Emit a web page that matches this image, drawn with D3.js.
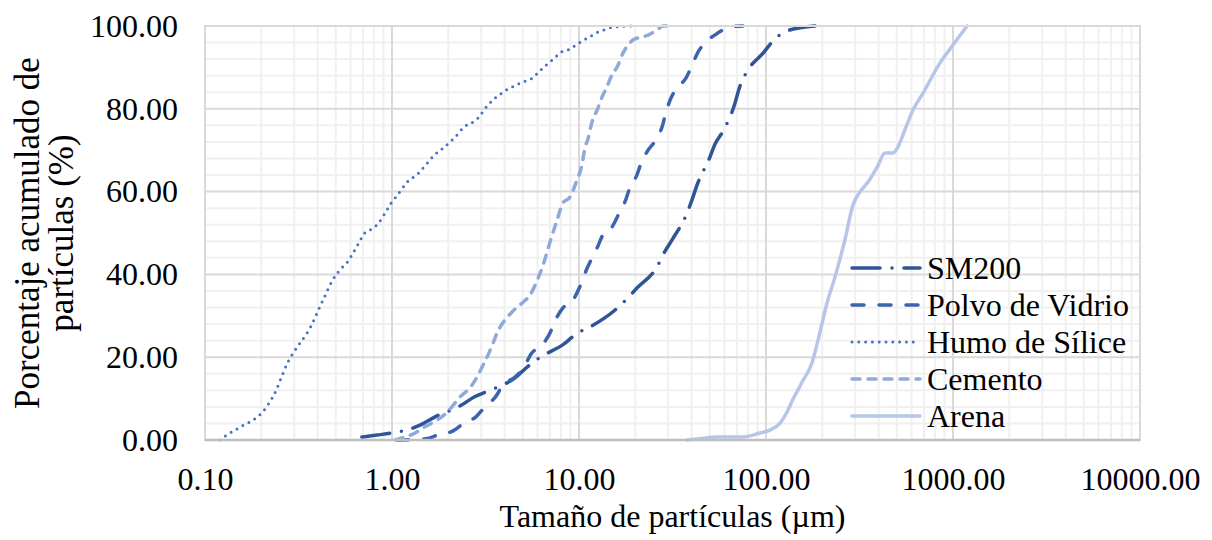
<!DOCTYPE html>
<html>
<head>
<meta charset="utf-8">
<script src="https://cdn.jsdelivr.net/npm/d3@7"></script>
<style>
  body { margin: 0; background: #fff; }
</style>
</head>
<body>
<svg id="chart" width="1212" height="540"></svg>
<script>
// ---- data ----
const seriesNames = ["SM200", "Polvo de Vidrio", "Humo de Sílice", "Cemento", "Arena"];

const sm200X = [0.69, 0.83, 1.0, 1.2, 1.41, 1.7, 2.37, 2.75, 3.26, 4.6, 5.21, 6.11, 8.32, 9.64, 11.45, 15.6, 17.8, 20.4, 26.1, 28.5, 31.4, 37.8, 40.2, 42.8, 50.2, 53.4, 58.9, 68.3, 71.7, 77.3, 97.5, 109, 129, 183];
const sm200Y = [0.7, 1.2, 1.7, 2.4, 3.6, 5.6, 8.5, 10.4, 11.8, 15.2, 17.4, 19.8, 23.2, 25.6, 27.3, 31.4, 33.8, 36.7, 41.8, 45.2, 48.3, 54.8, 58, 61.6, 68.4, 71.5, 74.6, 81.4, 84.8, 88.2, 93.7, 96.4, 98.8, 100];

const polvoX = [1.06, 1.28, 1.52, 1.76, 2.12, 2.43, 2.81, 3.14, 3.6, 3.92, 4.55, 5.08, 5.54, 6.34, 6.91, 7.63, 8.2, 9.29, 10.1, 11.0, 11.6, 12.5, 13.4, 15.0, 16.4, 17.6, 18.7, 20.4, 21.5, 23.1, 26.1, 27.8, 29.2, 30.7, 33.4, 37.3, 40.7, 43.3, 47.7, 55.3, 64.1, 75.3];
const polvoY = [0, 0.1, 0.3, 1.2, 2.2, 4.1, 5.6, 8, 10.6, 13.3, 15.2, 17.6, 20.8, 22.9, 25.4, 29.7, 31.9, 33.8, 37, 41.3, 43.5, 46.4, 49.5, 51.4, 54.8, 57.5, 60.9, 64, 66.9, 69.6, 72.9, 75.6, 79.2, 82.1, 85, 87.4, 91.1, 93.7, 96.1, 98.3, 99.8, 100];

const humoX = [0.12, 0.133, 0.158, 0.19, 0.204, 0.217, 0.24, 0.258, 0.281, 0.296, 0.322, 0.351, 0.369, 0.402, 0.438, 0.478, 0.54, 0.574, 0.611, 0.674, 0.708, 0.782, 0.841, 0.94, 0.988, 1.05, 1.12, 1.19, 1.39, 1.5, 1.7, 1.85, 2.15, 2.46, 2.71, 2.92, 3.1, 3.3, 3.87, 4.17, 4.6, 5.02, 5.54, 6.04, 6.42, 6.99, 7.53, 8.11, 8.95, 9.75, 10.6, 11.6, 12.6, 13.9, 15.2, 17.2, 19.0];
const humoY = [0, 1.4, 3.4, 5.5, 6.8, 8.5, 12, 15.5, 19.3, 21, 23.4, 25.8, 27.5, 31.2, 34.8, 38.4, 41.6, 42.8, 44.7, 48.1, 49.8, 51, 52.2, 55.6, 57.2, 58.7, 60.4, 62, 64.5, 66.2, 69, 70.3, 72.9, 75.8, 76.8, 78, 79.7, 81.2, 83.8, 84.8, 85.7, 86.5, 87.2, 88.7, 89.9, 91.3, 92.6, 93.8, 94.4, 95.6, 96.6, 97.6, 98.5, 99.2, 99.7, 99.9, 100];

const cementoX = [1.04, 1.17, 1.33, 1.46, 1.74, 1.95, 2.09, 2.31, 2.61, 2.85, 3.07, 3.26, 3.47, 3.64, 4.02, 4.38, 5.02, 5.47, 6.04, 6.34, 6.75, 7.0, 7.63, 8.2, 8.95, 9.75, 10.3, 10.8, 11.2, 11.7, 12.5, 13.3, 14.1, 15.0, 16.0, 17.2, 18.3, 19.4, 23.4, 26.1, 28.1, 31.8];
const cementoY = [0, 0.7, 1.7, 2.9, 4.8, 6.5, 8, 10.4, 12.6, 15.2, 18.1, 20.5, 23.4, 25.8, 29, 30.9, 33.3, 35, 39.1, 41.5, 45.4, 47.8, 53.1, 57.2, 58.7, 62.8, 65.9, 70.8, 72.9, 76.6, 79.7, 82.9, 85.3, 88.2, 90.1, 93.5, 95.4, 96.6, 97.8, 99, 100, 100];

const arenaX = [37.8, 44.4, 54.7, 74.5, 92.9, 105, 119, 128, 139, 156, 176, 190, 212, 234, 264, 292, 318, 351, 393, 433, 477, 508, 553, 611, 692, 852, 1000, 1189];
const arenaY = [0, 0.3, 0.7, 0.7, 1.7, 2.4, 4.1, 6.3, 9.7, 14, 18.6, 24.2, 33.1, 39.4, 48.3, 56.8, 59.9, 62.3, 65.9, 69.3, 69.3, 70.8, 74.9, 79.7, 83.8, 91.1, 95.4, 100];

const xTicks = [0.1, 1, 10, 100, 1000, 10000];
const yTicks = [0, 20, 40, 60, 80, 100];

const seriesX = [sm200X, polvoX, humoX, cementoX, arenaX];
const seriesY = [sm200Y, polvoY, humoY, cementoY, arenaY];
const colors = ["#2F5597", "#3B63AE", "#4472C4", "#8FA9DB", "#B6C5E8"];
const dashes = ["28,12,0,12", "12,15", "0,6.8", "8,8", null];
const widths = [3.5, 3.5, 3, 3.5, 3.5];

const FONT = "'Liberation Serif', Tinos, 'Times New Roman', 'DejaVu Serif', serif";

// ---- layout ----
const svg = d3.select("#chart");
const margin = { top: 26, right: 72, bottom: 100, left: 205 };
const innerWidth = 1212 - margin.left - margin.right;
const innerHeight = 540 - margin.top - margin.bottom;

const x = d3.scaleLog().domain([0.1, 10000]).range([0, innerWidth]);
const y = d3.scaleLinear().domain([0, 100]).range([innerHeight, 0]);

const g = svg.append("g").attr("transform", `translate(${margin.left},${margin.top})`);

// minor grid
const minorX = [];
xTicks.slice(0, -1).forEach(t => { for (let k = 2; k <= 9; k++) minorX.push(t * k); });
const minorY = d3.range(0, 101, 4).filter(v => v % 20 !== 0);

g.append("g").selectAll("line").data(minorX).enter().append("line")
    .attr("x1", d => x(d)).attr("x2", d => x(d))
    .attr("y1", 0).attr("y2", innerHeight)
    .attr("stroke", "#F0F0F0").attr("stroke-width", 2);
g.append("g").selectAll("line").data(minorY).enter().append("line")
    .attr("x1", 0).attr("x2", innerWidth)
    .attr("y1", d => y(d)).attr("y2", d => y(d))
    .attr("stroke", "#F0F0F0").attr("stroke-width", 2);

// major grid
g.append("g").selectAll("line").data(xTicks).enter().append("line")
    .attr("x1", d => x(d)).attr("x2", d => x(d))
    .attr("y1", 0).attr("y2", innerHeight)
    .attr("stroke", "#D9D9D9").attr("stroke-width", 2);
g.append("g").selectAll("line").data(yTicks).enter().append("line")
    .attr("x1", 0).attr("x2", innerWidth)
    .attr("y1", d => y(d)).attr("y2", d => y(d))
    .attr("stroke", "#D9D9D9").attr("stroke-width", 2);

// axes (labels only)
const fmt = d3.format(".2f");
const xAxis = g.append("g")
    .attr("transform", `translate(0,${innerHeight})`)
    .call(d3.axisBottom(x).tickValues(xTicks).tickFormat(fmt).tickSize(0).tickPadding(27));
const yAxis = g.append("g")
    .call(d3.axisLeft(y).tickValues(yTicks).tickFormat(fmt).tickSize(0).tickPadding(27));
[xAxis, yAxis].forEach(a => {
    a.attr("font-family", FONT).attr("font-size", 32);
    a.select(".domain").remove();
    a.selectAll("text").attr("fill", "#000");
});

// series lines
const line = d3.line()
    .x(d => x(d[0]))
    .y(d => y(d[1]))
    .curve(d3.curveMonotoneX);

seriesNames.forEach((name, i) => {
    const pts = seriesX[i].map((v, j) => [v, seriesY[i][j]]);
    g.append("path")
        .datum(pts)
        .attr("fill", "none")
        .attr("stroke", colors[i])
        .attr("stroke-width", widths[i])
        .attr("stroke-linecap", "round")
        .attr("stroke-dasharray", dashes[i])
        .attr("d", line);
});

// legend
const legend = svg.append("g")
    .attr("transform", "translate(850,268)")
    .attr("font-family", FONT).attr("font-size", 32);
seriesNames.forEach((name, i) => {
    const row = legend.append("g").attr("transform", `translate(0,${i * 37})`);
    row.append("line")
        .attr("x1", 2).attr("x2", 70).attr("y1", 0).attr("y2", 0)
        .attr("stroke", colors[i])
        .attr("stroke-width", widths[i])
        .attr("stroke-linecap", "round")
        .attr("stroke-dasharray", dashes[i]);
    row.append("text")
        .attr("x", 77).attr("y", 0).attr("dy", "0.35em")
        .attr("fill", "#000")
        .text(name);
});

// axis titles
svg.append("text")
    .attr("x", margin.left + innerWidth / 2).attr("y", 527)
    .attr("text-anchor", "middle")
    .attr("font-family", FONT).attr("font-size", 32)
    .text("Tamaño de partículas (µm)");

const yTitle = svg.append("text")
    .attr("transform", `translate(0,${margin.top + innerHeight / 2}) rotate(-90)`)
    .attr("text-anchor", "middle")
    .attr("font-family", FONT).attr("font-size", 35);
yTitle.append("tspan").attr("x", 0).attr("y", 39).text("Porcentaje acumulado de");
yTitle.append("tspan").attr("x", 0).attr("y", 73).text("partículas (%)");

// plot frame
g.append("rect")
    .attr("x", 0).attr("y", 0).attr("width", innerWidth).attr("height", innerHeight)
    .attr("fill", "none").attr("stroke", "#D9D9D9").attr("stroke-width", 2);
g.append("line")
    .attr("x1", 0).attr("x2", innerWidth)
    .attr("y1", innerHeight).attr("y2", innerHeight)
    .attr("stroke", "#BFBFBF").attr("stroke-width", 2.5);
</script>
</body>
</html>
